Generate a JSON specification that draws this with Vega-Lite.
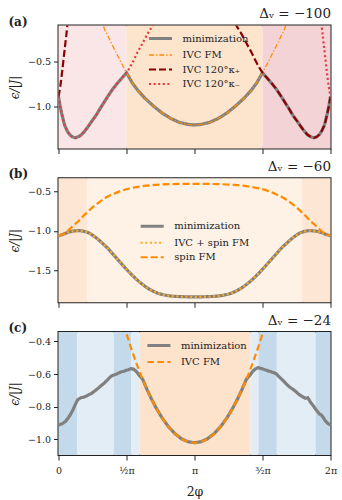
{
"$schema": "https://vega.github.io/schema/vega-lite/v6.json",
"padding": {"left": 6.5, "top": 5.5, "right": 2, "bottom": 0},
"config": {
 "font": "DejaVu Serif",
 "view": {"stroke": "#222", "strokeWidth": 2},
 "axis": {"grid": false, "domain": false, "tickSize": 5, "tickColor": "#222", "tickWidth": 1, "labelFont": "DejaVu Serif", "labelFontSize": 9.5, "labelColor": "#222", "labelPadding": 3, "labelFlush": false, "titleFont": "DejaVu Serif", "titleFontSize": 12, "titleFontWeight": "normal", "titleColor": "#222"},
 "axisY": {"titlePadding": 6, "titleFontStyle": "italic"},
 "title": {"font": "DejaVu Serif", "fontSize": 12, "fontWeight": "bold", "color": "#222", "anchor": "start", "frame": "bounds", "offset": 0},
 "legend": {"orient": "none", "title": null, "symbolType": "M-2,0H2", "symbolSize": 132.25, "labelOffset": 17, "rowPadding": 4.5, "labelFont": "DejaVu Serif", "labelFontSize": 10, "labelColor": "#222", "labelLimit": 0, "padding": 0}
},
"datasets": {
 "bandsA": [{"t0": 0, "t1": 1.5708, "r": "a1"}, {"t0": 1.5708, "t1": 4.7124, "r": "a2"}, {"t0": 4.7124, "t1": 6.2832, "r": "a3"}],
 "bandsB": [{"t0": 0, "t1": 0.654, "r": "edge"}, {"t0": 0.654, "t1": 5.629, "r": "mid"}, {"t0": 5.629, "t1": 6.2832, "r": "edge"}],
 "bandsC": [{"t0": 0, "t1": 0.43, "r": "dark"}, {"t0": 0.43, "t1": 1.277, "r": "light"}, {"t0": 1.277, "t1": 1.679, "r": "dark"}, {"t0": 1.679, "t1": 1.871, "r": "light"}, {"t0": 1.871, "t1": 4.435, "r": "orange"}, {"t0": 4.435, "t1": 4.62, "r": "light"}, {"t0": 4.62, "t1": 5.043, "r": "dark"}, {"t0": 5.043, "t1": 5.937, "r": "light"}, {"t0": 5.937, "t1": 6.2832, "r": "dark"}],
 "A": [
  {"s":"minimization","t":0,"v":-0.89},{"s":"minimization","t":0.035,"v":-0.99},{"s":"minimization","t":0.07,"v":-1.07},{"s":"minimization","t":0.139,"v":-1.205},{"s":"minimization","t":0.2,"v":-1.27},{"s":"minimization","t":0.254,"v":-1.31},{"s":"minimization","t":0.32,"v":-1.338},{"s":"minimization","t":0.385,"v":-1.348},{"s":"minimization","t":0.45,"v":-1.338},{"s":"minimization","t":0.52,"v":-1.318},{"s":"minimization","t":0.6,"v":-1.277},{"s":"minimization","t":0.68,"v":-1.226},{"s":"minimization","t":0.77,"v":-1.163},{"s":"minimization","t":0.87,"v":-1.097},{"s":"minimization","t":0.96,"v":-1.024},{"s":"minimization","t":1.06,"v":-0.948},{"s":"minimization","t":1.155,"v":-0.876},{"s":"minimization","t":1.25,"v":-0.808},{"s":"minimization","t":1.35,"v":-0.748},{"s":"minimization","t":1.45,"v":-0.692},{"s":"minimization","t":1.571,"v":-0.625},
  {"s":"minimization","t":1.7,"v":-0.735},{"s":"minimization","t":1.83,"v":-0.82},{"s":"minimization","t":2.0,"v":-0.91},{"s":"minimization","t":2.2,"v":-0.998},{"s":"minimization","t":2.4,"v":-1.075},{"s":"minimization","t":2.6,"v":-1.135},{"s":"minimization","t":2.8,"v":-1.178},{"s":"minimization","t":3.0,"v":-1.2},{"s":"minimization","t":3.1416,"v":-1.205},{"s":"minimization","t":3.283,"v":-1.2},{"s":"minimization","t":3.483,"v":-1.178},{"s":"minimization","t":3.683,"v":-1.135},{"s":"minimization","t":3.883,"v":-1.075},{"s":"minimization","t":4.083,"v":-0.998},{"s":"minimization","t":4.283,"v":-0.91},{"s":"minimization","t":4.453,"v":-0.82},{"s":"minimization","t":4.583,"v":-0.735},{"s":"minimization","t":4.712,"v":-0.625},
  {"s":"minimization","t":4.833,"v":-0.692},{"s":"minimization","t":4.933,"v":-0.748},{"s":"minimization","t":5.033,"v":-0.808},{"s":"minimization","t":5.128,"v":-0.876},{"s":"minimization","t":5.223,"v":-0.948},{"s":"minimization","t":5.323,"v":-1.024},{"s":"minimization","t":5.413,"v":-1.097},{"s":"minimization","t":5.513,"v":-1.163},{"s":"minimization","t":5.603,"v":-1.226},{"s":"minimization","t":5.683,"v":-1.277},{"s":"minimization","t":5.763,"v":-1.318},{"s":"minimization","t":5.833,"v":-1.338},{"s":"minimization","t":5.898,"v":-1.348},{"s":"minimization","t":5.963,"v":-1.338},{"s":"minimization","t":6.029,"v":-1.31},{"s":"minimization","t":6.083,"v":-1.27},{"s":"minimization","t":6.144,"v":-1.205},{"s":"minimization","t":6.213,"v":-1.07},{"s":"minimization","t":6.248,"v":-0.99},{"s":"minimization","t":6.2832,"v":-0.89},
  {"s":"IVC FM","t":0.98,"v":0.0},{"s":"IVC FM","t":1.047,"v":-0.12},{"s":"IVC FM","t":1.15,"v":-0.225},{"s":"IVC FM","t":1.25,"v":-0.325},{"s":"IVC FM","t":1.35,"v":-0.42},{"s":"IVC FM","t":1.45,"v":-0.515},{"s":"IVC FM","t":1.571,"v":-0.625},{"s":"IVC FM","t":1.7,"v":-0.73},{"s":"IVC FM","t":1.83,"v":-0.82},{"s":"IVC FM","t":2.0,"v":-0.91},{"s":"IVC FM","t":2.2,"v":-0.998},{"s":"IVC FM","t":2.4,"v":-1.075},{"s":"IVC FM","t":2.6,"v":-1.135},{"s":"IVC FM","t":2.8,"v":-1.178},{"s":"IVC FM","t":3.0,"v":-1.2},{"s":"IVC FM","t":3.1416,"v":-1.205},{"s":"IVC FM","t":3.283,"v":-1.2},{"s":"IVC FM","t":3.483,"v":-1.178},{"s":"IVC FM","t":3.683,"v":-1.135},{"s":"IVC FM","t":3.883,"v":-1.075},{"s":"IVC FM","t":4.083,"v":-0.998},{"s":"IVC FM","t":4.283,"v":-0.91},{"s":"IVC FM","t":4.453,"v":-0.82},{"s":"IVC FM","t":4.583,"v":-0.73},{"s":"IVC FM","t":4.712,"v":-0.625},{"s":"IVC FM","t":4.833,"v":-0.515},{"s":"IVC FM","t":4.933,"v":-0.42},{"s":"IVC FM","t":5.033,"v":-0.325},{"s":"IVC FM","t":5.133,"v":-0.225},{"s":"IVC FM","t":5.236,"v":-0.12},{"s":"IVC FM","t":5.303,"v":0.0},
  {"s":"IVC 120°κ₊","t":0,"v":-0.89},{"s":"IVC 120°κ₊","t":0.04,"v":-0.78},{"s":"IVC 120°κ₊","t":0.08,"v":-0.63},{"s":"IVC 120°κ₊","t":0.12,"v":-0.46},{"s":"IVC 120°κ₊","t":0.16,"v":-0.29},{"s":"IVC 120°κ₊","t":0.2,"v":-0.12},{"s":"IVC 120°κ₊","t":0.23,"v":0.05},{"s":"IVC 120°κ₊","t":3.983,"v":0.05},{"s":"IVC 120°κ₊","t":4.103,"v":-0.095},{"s":"IVC 120°κ₊","t":4.223,"v":-0.19},{"s":"IVC 120°κ₊","t":4.333,"v":-0.29},{"s":"IVC 120°κ₊","t":4.453,"v":-0.395},{"s":"IVC 120°κ₊","t":4.583,"v":-0.52},{"s":"IVC 120°κ₊","t":4.712,"v":-0.625},{"s":"IVC 120°κ₊","t":4.833,"v":-0.692},{"s":"IVC 120°κ₊","t":4.933,"v":-0.748},{"s":"IVC 120°κ₊","t":5.033,"v":-0.808},{"s":"IVC 120°κ₊","t":5.128,"v":-0.876},{"s":"IVC 120°κ₊","t":5.223,"v":-0.948},{"s":"IVC 120°κ₊","t":5.323,"v":-1.024},{"s":"IVC 120°κ₊","t":5.413,"v":-1.097},{"s":"IVC 120°κ₊","t":5.513,"v":-1.163},{"s":"IVC 120°κ₊","t":5.603,"v":-1.226},{"s":"IVC 120°κ₊","t":5.683,"v":-1.277},{"s":"IVC 120°κ₊","t":5.763,"v":-1.318},{"s":"IVC 120°κ₊","t":5.833,"v":-1.338},{"s":"IVC 120°κ₊","t":5.898,"v":-1.348},{"s":"IVC 120°κ₊","t":5.963,"v":-1.338},{"s":"IVC 120°κ₊","t":6.029,"v":-1.31},{"s":"IVC 120°κ₊","t":6.083,"v":-1.27},{"s":"IVC 120°κ₊","t":6.144,"v":-1.205},{"s":"IVC 120°κ₊","t":6.213,"v":-1.07},{"s":"IVC 120°κ₊","t":6.248,"v":-0.99},{"s":"IVC 120°κ₊","t":6.2832,"v":-0.89},
  {"s":"IVC 120°κ₋","t":0,"v":-0.89},{"s":"IVC 120°κ₋","t":0.035,"v":-0.99},{"s":"IVC 120°κ₋","t":0.07,"v":-1.07},{"s":"IVC 120°κ₋","t":0.139,"v":-1.205},{"s":"IVC 120°κ₋","t":0.2,"v":-1.27},{"s":"IVC 120°κ₋","t":0.254,"v":-1.31},{"s":"IVC 120°κ₋","t":0.32,"v":-1.338},{"s":"IVC 120°κ₋","t":0.385,"v":-1.348},{"s":"IVC 120°κ₋","t":0.45,"v":-1.338},{"s":"IVC 120°κ₋","t":0.52,"v":-1.318},{"s":"IVC 120°κ₋","t":0.6,"v":-1.277},{"s":"IVC 120°κ₋","t":0.68,"v":-1.226},{"s":"IVC 120°κ₋","t":0.77,"v":-1.163},{"s":"IVC 120°κ₋","t":0.87,"v":-1.097},{"s":"IVC 120°κ₋","t":0.96,"v":-1.024},{"s":"IVC 120°κ₋","t":1.06,"v":-0.948},{"s":"IVC 120°κ₋","t":1.155,"v":-0.876},{"s":"IVC 120°κ₋","t":1.25,"v":-0.808},{"s":"IVC 120°κ₋","t":1.35,"v":-0.748},{"s":"IVC 120°κ₋","t":1.45,"v":-0.692},{"s":"IVC 120°κ₋","t":1.571,"v":-0.625},{"s":"IVC 120°κ₋","t":1.7,"v":-0.52},{"s":"IVC 120°κ₋","t":1.83,"v":-0.395},{"s":"IVC 120°κ₋","t":1.95,"v":-0.29},{"s":"IVC 120°κ₋","t":2.06,"v":-0.19},{"s":"IVC 120°κ₋","t":2.18,"v":-0.095},{"s":"IVC 120°κ₋","t":2.3,"v":0.05},{"s":"IVC 120°κ₋","t":6.053,"v":0.05},{"s":"IVC 120°κ₋","t":6.083,"v":-0.12},{"s":"IVC 120°κ₋","t":6.123,"v":-0.29},{"s":"IVC 120°κ₋","t":6.163,"v":-0.46},{"s":"IVC 120°κ₋","t":6.203,"v":-0.63},{"s":"IVC 120°κ₋","t":6.243,"v":-0.78},{"s":"IVC 120°κ₋","t":6.2832,"v":-0.89}
 ],
 "B": [
  {"s":"minimization","t":0,"v":-1.062},{"s":"minimization","t":0.1,"v":-1.045},{"s":"minimization","t":0.215,"v":-1.02},{"s":"minimization","t":0.35,"v":-1.003},{"s":"minimization","t":0.485,"v":-0.998},{"s":"minimization","t":0.6,"v":-1.008},{"s":"minimization","t":0.677,"v":-1.02},{"s":"minimization","t":0.8,"v":-1.06},{"s":"minimization","t":0.908,"v":-1.105},{"s":"minimization","t":1.02,"v":-1.16},{"s":"minimization","t":1.139,"v":-1.222},{"s":"minimization","t":1.25,"v":-1.29},{"s":"minimization","t":1.37,"v":-1.364},{"s":"minimization","t":1.49,"v":-1.437},{"s":"minimization","t":1.601,"v":-1.503},{"s":"minimization","t":1.72,"v":-1.57},{"s":"minimization","t":1.832,"v":-1.628},{"s":"minimization","t":1.95,"v":-1.68},{"s":"minimization","t":2.063,"v":-1.725},{"s":"minimization","t":2.18,"v":-1.76},{"s":"minimization","t":2.294,"v":-1.787},{"s":"minimization","t":2.41,"v":-1.805},{"s":"minimization","t":2.525,"v":-1.818},{"s":"minimization","t":2.68,"v":-1.827},{"s":"minimization","t":2.834,"v":-1.831},{"s":"minimization","t":3.0,"v":-1.833},{"s":"minimization","t":3.1416,"v":-1.833},{"s":"minimization","t":3.283,"v":-1.833},{"s":"minimization","t":3.449,"v":-1.831},{"s":"minimization","t":3.603,"v":-1.827},{"s":"minimization","t":3.758,"v":-1.818},{"s":"minimization","t":3.873,"v":-1.805},{"s":"minimization","t":3.989,"v":-1.787},{"s":"minimization","t":4.103,"v":-1.76},{"s":"minimization","t":4.22,"v":-1.725},{"s":"minimization","t":4.333,"v":-1.68},{"s":"minimization","t":4.451,"v":-1.628},{"s":"minimization","t":4.563,"v":-1.57},{"s":"minimization","t":4.682,"v":-1.503},{"s":"minimization","t":4.793,"v":-1.437},{"s":"minimization","t":4.913,"v":-1.364},{"s":"minimization","t":5.033,"v":-1.29},{"s":"minimization","t":5.144,"v":-1.222},{"s":"minimization","t":5.263,"v":-1.16},{"s":"minimization","t":5.375,"v":-1.105},{"s":"minimization","t":5.483,"v":-1.06},{"s":"minimization","t":5.606,"v":-1.02},{"s":"minimization","t":5.683,"v":-1.008},{"s":"minimization","t":5.798,"v":-0.998},{"s":"minimization","t":5.933,"v":-1.003},{"s":"minimization","t":6.068,"v":-1.02},{"s":"minimization","t":6.183,"v":-1.045},{"s":"minimization","t":6.2832,"v":-1.062},
  {"s":"IVC + spin FM","t":0,"v":-1.062},{"s":"IVC + spin FM","t":0.1,"v":-1.045},{"s":"IVC + spin FM","t":0.215,"v":-1.02},{"s":"IVC + spin FM","t":0.35,"v":-1.003},{"s":"IVC + spin FM","t":0.485,"v":-0.998},{"s":"IVC + spin FM","t":0.6,"v":-1.008},{"s":"IVC + spin FM","t":0.677,"v":-1.02},{"s":"IVC + spin FM","t":0.8,"v":-1.06},{"s":"IVC + spin FM","t":0.908,"v":-1.105},{"s":"IVC + spin FM","t":1.02,"v":-1.16},{"s":"IVC + spin FM","t":1.139,"v":-1.222},{"s":"IVC + spin FM","t":1.25,"v":-1.29},{"s":"IVC + spin FM","t":1.37,"v":-1.364},{"s":"IVC + spin FM","t":1.49,"v":-1.437},{"s":"IVC + spin FM","t":1.601,"v":-1.503},{"s":"IVC + spin FM","t":1.72,"v":-1.57},{"s":"IVC + spin FM","t":1.832,"v":-1.628},{"s":"IVC + spin FM","t":1.95,"v":-1.68},{"s":"IVC + spin FM","t":2.063,"v":-1.725},{"s":"IVC + spin FM","t":2.18,"v":-1.76},{"s":"IVC + spin FM","t":2.294,"v":-1.787},{"s":"IVC + spin FM","t":2.41,"v":-1.805},{"s":"IVC + spin FM","t":2.525,"v":-1.818},{"s":"IVC + spin FM","t":2.68,"v":-1.827},{"s":"IVC + spin FM","t":2.834,"v":-1.831},{"s":"IVC + spin FM","t":3.0,"v":-1.833},{"s":"IVC + spin FM","t":3.1416,"v":-1.833},{"s":"IVC + spin FM","t":3.283,"v":-1.833},{"s":"IVC + spin FM","t":3.449,"v":-1.831},{"s":"IVC + spin FM","t":3.603,"v":-1.827},{"s":"IVC + spin FM","t":3.758,"v":-1.818},{"s":"IVC + spin FM","t":3.873,"v":-1.805},{"s":"IVC + spin FM","t":3.989,"v":-1.787},{"s":"IVC + spin FM","t":4.103,"v":-1.76},{"s":"IVC + spin FM","t":4.22,"v":-1.725},{"s":"IVC + spin FM","t":4.333,"v":-1.68},{"s":"IVC + spin FM","t":4.451,"v":-1.628},{"s":"IVC + spin FM","t":4.563,"v":-1.57},{"s":"IVC + spin FM","t":4.682,"v":-1.503},{"s":"IVC + spin FM","t":4.793,"v":-1.437},{"s":"IVC + spin FM","t":4.913,"v":-1.364},{"s":"IVC + spin FM","t":5.033,"v":-1.29},{"s":"IVC + spin FM","t":5.144,"v":-1.222},{"s":"IVC + spin FM","t":5.263,"v":-1.16},{"s":"IVC + spin FM","t":5.375,"v":-1.105},{"s":"IVC + spin FM","t":5.483,"v":-1.06},{"s":"IVC + spin FM","t":5.606,"v":-1.02},{"s":"IVC + spin FM","t":5.683,"v":-1.008},{"s":"IVC + spin FM","t":5.798,"v":-0.998},{"s":"IVC + spin FM","t":5.933,"v":-1.003},{"s":"IVC + spin FM","t":6.068,"v":-1.02},{"s":"IVC + spin FM","t":6.183,"v":-1.045},{"s":"IVC + spin FM","t":6.2832,"v":-1.062},
  {"s":"spin FM","t":0,"v":-1.062},{"s":"spin FM","t":0.1,"v":-1.042},{"s":"spin FM","t":0.215,"v":-0.999},{"s":"spin FM","t":0.33,"v":-0.94},{"s":"spin FM","t":0.446,"v":-0.885},{"s":"spin FM","t":0.56,"v":-0.82},{"s":"spin FM","t":0.677,"v":-0.759},{"s":"spin FM","t":0.79,"v":-0.7},{"s":"spin FM","t":0.908,"v":-0.651},{"s":"spin FM","t":1.02,"v":-0.607},{"s":"spin FM","t":1.139,"v":-0.567},{"s":"spin FM","t":1.3,"v":-0.527},{"s":"spin FM","t":1.447,"v":-0.495},{"s":"spin FM","t":1.64,"v":-0.465},{"s":"spin FM","t":1.832,"v":-0.445},{"s":"spin FM","t":2.02,"v":-0.43},{"s":"spin FM","t":2.217,"v":-0.42},{"s":"spin FM","t":2.6,"v":-0.41},{"s":"spin FM","t":3.1416,"v":-0.406},{"s":"spin FM","t":3.683,"v":-0.41},{"s":"spin FM","t":4.066,"v":-0.42},{"s":"spin FM","t":4.263,"v":-0.43},{"s":"spin FM","t":4.451,"v":-0.445},{"s":"spin FM","t":4.643,"v":-0.465},{"s":"spin FM","t":4.836,"v":-0.495},{"s":"spin FM","t":4.983,"v":-0.527},{"s":"spin FM","t":5.144,"v":-0.567},{"s":"spin FM","t":5.263,"v":-0.607},{"s":"spin FM","t":5.375,"v":-0.651},{"s":"spin FM","t":5.493,"v":-0.7},{"s":"spin FM","t":5.606,"v":-0.759},{"s":"spin FM","t":5.723,"v":-0.82},{"s":"spin FM","t":5.837,"v":-0.885},{"s":"spin FM","t":5.953,"v":-0.94},{"s":"spin FM","t":6.068,"v":-0.999},{"s":"spin FM","t":6.183,"v":-1.042},{"s":"spin FM","t":6.2832,"v":-1.062}
 ],
 "C": [
  {"s":"minimization","t":0,"v":-0.912},{"s":"minimization","t":0.099,"v":-0.902},{"s":"minimization","t":0.16,"v":-0.89},{"s":"minimization","t":0.215,"v":-0.872},{"s":"minimization","t":0.27,"v":-0.85},{"s":"minimization","t":0.33,"v":-0.821},{"s":"minimization","t":0.39,"v":-0.785},{"s":"minimization","t":0.446,"v":-0.756},{"s":"minimization","t":0.524,"v":-0.744},{"s":"minimization","t":0.58,"v":-0.742},{"s":"minimization","t":0.64,"v":-0.735},{"s":"minimization","t":0.7,"v":-0.726},{"s":"minimization","t":0.755,"v":-0.72},{"s":"minimization","t":0.83,"v":-0.705},{"s":"minimization","t":0.908,"v":-0.689},{"s":"minimization","t":0.98,"v":-0.672},{"s":"minimization","t":1.063,"v":-0.654},{"s":"minimization","t":1.14,"v":-0.633},{"s":"minimization","t":1.217,"v":-0.613},{"s":"minimization","t":1.28,"v":-0.606},{"s":"minimization","t":1.333,"v":-0.601},{"s":"minimization","t":1.39,"v":-0.594},{"s":"minimization","t":1.448,"v":-0.587},{"s":"minimization","t":1.51,"v":-0.583},{"s":"minimization","t":1.564,"v":-0.577},{"s":"minimization","t":1.62,"v":-0.573},{"s":"minimization","t":1.679,"v":-0.567},{"s":"minimization","t":1.74,"v":-0.571},{"s":"minimization","t":1.795,"v":-0.583},{"s":"minimization","t":1.85,"v":-0.603},{"s":"minimization","t":1.942,"v":-0.631},{"s":"minimization","t":2.042,"v":-0.693},{"s":"minimization","t":2.142,"v":-0.75},{"s":"minimization","t":2.242,"v":-0.801},{"s":"minimization","t":2.392,"v":-0.868},{"s":"minimization","t":2.542,"v":-0.923},{"s":"minimization","t":2.692,"v":-0.965},{"s":"minimization","t":2.842,"v":-0.996},{"s":"minimization","t":2.992,"v":-1.014},{"s":"minimization","t":3.1416,"v":-1.02},{"s":"minimization","t":3.291,"v":-1.014},{"s":"minimization","t":3.441,"v":-0.996},{"s":"minimization","t":3.591,"v":-0.965},{"s":"minimization","t":3.741,"v":-0.923},{"s":"minimization","t":3.891,"v":-0.868},{"s":"minimization","t":4.041,"v":-0.801},{"s":"minimization","t":4.141,"v":-0.75},{"s":"minimization","t":4.241,"v":-0.693},{"s":"minimization","t":4.341,"v":-0.631},{"s":"minimization","t":4.433,"v":-0.603},{"s":"minimization","t":4.489,"v":-0.583},{"s":"minimization","t":4.545,"v":-0.57},{"s":"minimization","t":4.604,"v":-0.561},{"s":"minimization","t":4.7,"v":-0.567},{"s":"minimization","t":4.798,"v":-0.577},{"s":"minimization","t":4.9,"v":-0.585},{"s":"minimization","t":5.029,"v":-0.598},{"s":"minimization","t":5.1,"v":-0.618},{"s":"minimization","t":5.181,"v":-0.638},{"s":"minimization","t":5.26,"v":-0.66},{"s":"minimization","t":5.336,"v":-0.679},{"s":"minimization","t":5.41,"v":-0.692},{"s":"minimization","t":5.491,"v":-0.709},{"s":"minimization","t":5.57,"v":-0.728},{"s":"minimization","t":5.643,"v":-0.74},{"s":"minimization","t":5.7,"v":-0.748},{"s":"minimization","t":5.759,"v":-0.745},{"s":"minimization","t":5.82,"v":-0.772},{"s":"minimization","t":5.874,"v":-0.79},{"s":"minimization","t":5.95,"v":-0.818},{"s":"minimization","t":6.029,"v":-0.845},{"s":"minimization","t":6.07,"v":-0.85},{"s":"minimization","t":6.106,"v":-0.862},{"s":"minimization","t":6.16,"v":-0.885},{"s":"minimization","t":6.221,"v":-0.902},{"s":"minimization","t":6.2832,"v":-0.912},
  {"s":"IVC FM","t":1.4416,"v":-0.24},{"s":"IVC FM","t":1.4916,"v":-0.285},{"s":"IVC FM","t":1.5916,"v":-0.371},{"s":"IVC FM","t":1.6416,"v":-0.413},{"s":"IVC FM","t":1.7416,"v":-0.491},{"s":"IVC FM","t":1.8416,"v":-0.564},{"s":"IVC FM","t":1.9416,"v":-0.631},{"s":"IVC FM","t":2.0416,"v":-0.693},{"s":"IVC FM","t":2.1416,"v":-0.75},{"s":"IVC FM","t":2.2416,"v":-0.801},{"s":"IVC FM","t":2.3916,"v":-0.868},{"s":"IVC FM","t":2.5416,"v":-0.923},{"s":"IVC FM","t":2.6916,"v":-0.965},{"s":"IVC FM","t":2.8416,"v":-0.996},{"s":"IVC FM","t":2.9916,"v":-1.014},{"s":"IVC FM","t":3.1416,"v":-1.02},{"s":"IVC FM","t":3.2916,"v":-1.014},{"s":"IVC FM","t":3.4416,"v":-0.996},{"s":"IVC FM","t":3.5916,"v":-0.965},{"s":"IVC FM","t":3.7416,"v":-0.923},{"s":"IVC FM","t":3.8916,"v":-0.868},{"s":"IVC FM","t":4.0416,"v":-0.801},{"s":"IVC FM","t":4.1416,"v":-0.75},{"s":"IVC FM","t":4.2416,"v":-0.693},{"s":"IVC FM","t":4.3416,"v":-0.631},{"s":"IVC FM","t":4.4416,"v":-0.564},{"s":"IVC FM","t":4.5416,"v":-0.491},{"s":"IVC FM","t":4.6416,"v":-0.413},{"s":"IVC FM","t":4.6916,"v":-0.371},{"s":"IVC FM","t":4.7916,"v":-0.285},{"s":"IVC FM","t":4.8416,"v":-0.24}
 ]
},
"spacing": 2.75,
"resolve": {"scale": {"color": "independent", "strokeDash": "independent", "fill": "independent", "x": "independent", "y": "independent"}},
"vconcat": [
 {
  "title": {"text": "(a)", "dy": 26},
  "width": 272, "height": 123,
  "resolve": {"axis": {"x": "independent"}},
  "layer": [
   {"data": {"name": "bandsA"}, "mark": {"type": "rect"},
    "encoding": {
     "x": {"field": "t0", "type": "quantitative", "scale": {"domain": [0, 6.2831853]}, "axis": {"orient": "top", "ticks": false, "labels": false, "title": "Δᵥ = −100", "titleAnchor": "end", "titleFontSize": 13.5, "titlePadding": 5}},
     "x2": {"field": "t1"},
     "fill": {"field": "r", "type": "nominal", "scale": {"domain": ["a1", "a2", "a3"], "range": ["#fae6e6", "#fde4cd", "#f4d3d6"]}, "legend": null}
    }},
   {"data": {"name": "A"},
    "encoding": {
     "x": {"field": "t", "type": "quantitative", "scale": {"domain": [0, 6.2831853]}, "axis": {"orient": "bottom", "values": [0, 1.5707963, 3.1415927, 4.712389, 6.2831853], "labels": false, "title": null}},
     "y": {"field": "v", "type": "quantitative", "scale": {"domain": [-1.467, -0.1], "nice": false, "zero": false}, "axis": {"values": [-1.0, -0.5], "format": ".1f", "title": "ϵ/|J|"}},
     "color": {"field": "s", "type": "nominal", "scale": {"domain": ["minimization", "IVC FM", "IVC 120°κ₊", "IVC 120°κ₋"], "range": ["#808080", "#ff8c00", "#8b0000", "#e3393c"]}, "legend": {"legendX": 97, "legendY": 8, "encode": {"symbols": {"update": {"strokeWidth": {"signal": "datum.value === 'minimization' ? 3.2 : datum.value === 'IVC FM' ? 1.3 : 2.2"}}}}}},
     "strokeDash": {"field": "s", "type": "nominal", "scale": {"domain": ["minimization", "IVC FM", "IVC 120°κ₊", "IVC 120°κ₋"], "range": [[1, 0], [5, 2, 1.3, 2], [7, 3], [2, 2.6]]}, "legend": {"legendX": 97, "legendY": 8}}
    },
    "layer": [
     {"transform": [{"filter": "datum.s === 'minimization'"}], "mark": {"type": "line", "clip": true, "strokeWidth": 3.2}},
     {"transform": [{"filter": "datum.s === 'IVC FM'"}], "mark": {"type": "line", "clip": true, "strokeWidth": 1.3, "interpolate": "monotone", "strokeCap": "butt"}},
     {"transform": [{"filter": "datum.s === 'IVC 120°κ₊'"}], "mark": {"type": "line", "clip": true, "strokeWidth": 2.2, "interpolate": "monotone", "strokeCap": "butt"}},
     {"transform": [{"filter": "datum.s === 'IVC 120°κ₋'"}], "mark": {"type": "line", "clip": true, "strokeWidth": 2.2, "interpolate": "monotone", "strokeCap": "butt"}}
    ]}
  ]
 },
 {
  "title": {"text": "(b)", "dy": 26},
  "width": 272, "height": 124,
  "resolve": {"axis": {"x": "independent"}},
  "layer": [
   {"data": {"name": "bandsB"}, "mark": {"type": "rect"},
    "encoding": {
     "x": {"field": "t0", "type": "quantitative", "scale": {"domain": [0, 6.2831853]}, "axis": {"orient": "top", "ticks": false, "labels": false, "title": "Δᵥ = −60", "titleAnchor": "end", "titleFontSize": 13.5, "titlePadding": 5}},
     "x2": {"field": "t1"},
     "fill": {"field": "r", "type": "nominal", "scale": {"domain": ["edge", "mid"], "range": ["#fde6d3", "#fef2e6"]}, "legend": null}
    }},
   {"data": {"name": "B"},
    "encoding": {
     "x": {"field": "t", "type": "quantitative", "scale": {"domain": [0, 6.2831853]}, "axis": {"orient": "bottom", "values": [0, 1.5707963, 3.1415927, 4.712389, 6.2831853], "labels": false, "title": null}},
     "y": {"field": "v", "type": "quantitative", "scale": {"domain": [-1.902, -0.336], "nice": false, "zero": false}, "axis": {"values": [-1.5, -1.0, -0.5], "format": ".1f", "title": "ϵ/|J|"}},
     "color": {"field": "s", "type": "nominal", "scale": {"domain": ["minimization", "IVC + spin FM", "spin FM"], "range": ["#808080", "#ffaa1a", "#ff8c00"]}, "legend": {"legendX": 88.7, "legendY": 43, "encode": {"symbols": {"update": {"strokeWidth": {"signal": "datum.value === 'minimization' ? 3.2 : 2.2"}}}}}},
     "strokeDash": {"field": "s", "type": "nominal", "scale": {"domain": ["minimization", "IVC + spin FM", "spin FM"], "range": [[1, 0], [2, 2.6], [7, 3]]}, "legend": {"legendX": 88.7, "legendY": 43}}
    },
    "layer": [
     {"transform": [{"filter": "datum.s === 'minimization'"}], "mark": {"type": "line", "clip": true, "strokeWidth": 3.2, "interpolate": "monotone"}},
     {"transform": [{"filter": "datum.s === 'IVC + spin FM'"}], "mark": {"type": "line", "clip": true, "strokeWidth": 2.2, "interpolate": "monotone", "strokeCap": "butt"}},
     {"transform": [{"filter": "datum.s === 'spin FM'"}], "mark": {"type": "line", "clip": true, "strokeWidth": 2.2, "interpolate": "monotone", "strokeCap": "butt"}}
    ]}
  ]
 },
 {
  "title": {"text": "(c)", "dy": 26},
  "width": 272, "height": 123,
  "resolve": {"axis": {"x": "independent"}},
  "layer": [
   {"data": {"name": "bandsC"}, "mark": {"type": "rect"},
    "encoding": {
     "x": {"field": "t0", "type": "quantitative", "scale": {"domain": [0, 6.2831853]}, "axis": {"orient": "top", "ticks": false, "labels": false, "title": "Δᵥ = −24", "titleAnchor": "end", "titleFontSize": 13.5, "titlePadding": 5}},
     "x2": {"field": "t1"},
     "fill": {"field": "r", "type": "nominal", "scale": {"domain": ["dark", "light", "orange"], "range": ["#c4daeb", "#e3edf6", "#fde3cc"]}, "legend": null}
    }},
   {"data": {"name": "C"},
    "encoding": {
     "x": {"field": "t", "type": "quantitative", "scale": {"domain": [0, 6.2831853]}, "axis": {"orient": "bottom", "values": [0, 1.5707963, 3.1415927, 4.712389, 6.2831853], "labelExpr": "datum.value < 0.1 ? '0' : datum.value < 2 ? '½π' : datum.value < 4 ? 'π' : datum.value < 5 ? '³⁄₂π' : '2π'", "labelPadding": 5, "title": "2φ", "titleFontSize": 12.5, "titlePadding": 11}},
     "y": {"field": "v", "type": "quantitative", "scale": {"domain": [-1.095, -0.343], "nice": false, "zero": false}, "axis": {"values": [-1.0, -0.8, -0.6, -0.4], "format": ".1f", "title": "ϵ/|J|"}},
     "color": {"field": "s", "type": "nominal", "scale": {"domain": ["minimization", "IVC FM"], "range": ["#808080", "#ff8c00"]}, "legend": {"legendX": 95.4, "legendY": 8.5, "encode": {"symbols": {"update": {"strokeWidth": {"signal": "datum.value === 'minimization' ? 3.2 : 2.2"}}}}}},
     "strokeDash": {"field": "s", "type": "nominal", "scale": {"domain": ["minimization", "IVC FM"], "range": [[1, 0], [6.5, 3.5]]}, "legend": {"legendX": 95.4, "legendY": 8.5}}
    },
    "layer": [
     {"transform": [{"filter": "datum.s === 'minimization'"}], "mark": {"type": "line", "clip": true, "strokeWidth": 3.2}},
     {"transform": [{"filter": "datum.s === 'IVC FM'"}], "mark": {"type": "line", "clip": true, "strokeWidth": 2.2, "interpolate": "monotone", "strokeCap": "butt"}}
    ]}
  ]
 }
]
}
